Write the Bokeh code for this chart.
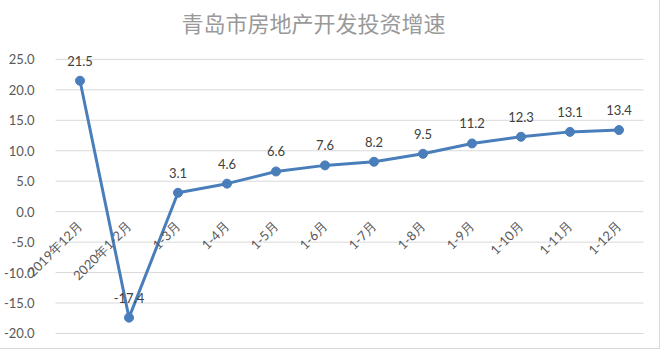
from bokeh.plotting import figure
from bokeh.models import Range1d, ColumnDataSource, NumeralTickFormatter, FixedTicker, LabelSet
from bokeh.core.properties import value
from bokeh.embed import file_html
from bokeh.resources import INLINE
import math

categories = ["2019年12月", "2020年1-2月", "1-3月", "1-4月", "1-5月", "1-6月",
              "1-7月", "1-8月", "1-9月", "1-10月", "1-11月", "1-12月"]
growth = [21.5, -17.4, 3.1, 4.6, 6.6, 7.6, 8.2, 9.5, 11.2, 12.3, 13.1, 13.4]
labels = ["21.5", "-17.4", "3.1", "4.6", "6.6", "7.6", "8.2", "9.5", "11.2", "12.3", "13.1", "13.4"]
y_ticks = [-20, -15, -10, -5, 0, 5, 10, 15, 20, 25]
title_text = "青岛市房地产开发投资增速"

n = len(categories)
pos = list(range(n))
src = ColumnDataSource(dict(x=pos, y=growth, lab=labels))
grid_src = ColumnDataSource(dict(x0=[-0.5] * len(y_ticks), x1=[n - 0.5] * len(y_ticks),
                                 y=y_ticks))

# each category band is 49 px wide, 6.09 px per unit vertically; the frame spans
# nearly the whole canvas so that rotated labels and data labels are not clipped
p = figure(width=660, height=349, output_backend="svg", toolbar_location=None,
           x_range=Range1d(-0.5 - 55 / 49, n - 0.5 + 17 / 49),
           y_range=Range1d(-20 - 10 / 6.09, 30.4),
           min_border_left=0, min_border_right=0, min_border_top=26, min_border_bottom=6)
p.styles = {"border-right": "1px solid #d9d9d9", "border-bottom": "1px solid #d9d9d9"}

p.title.text = title_text
p.title.text_font = "Noto Sans CJK SC"
p.title.text_font_size = "22px"
p.title.text_font_style = "normal"
p.title.text_color = "#999999"
p.title.align = "left"
p.title.offset = 181
p.title.standoff = -22

p.outline_line_color = None
p.xgrid.grid_line_color = None
p.ygrid.grid_line_color = None

# horizontal gridlines spanning the category bands only
p.segment(x0="x0", x1="x1", y0="y", y1="y", source=grid_src,
          line_color="#d9d9d9", line_width=1)

xax = p.xaxis[0]
xax.fixed_location = 0
xax.ticker = FixedTicker(ticks=pos)
xax.major_label_overrides = {i: c for i, c in zip(pos, categories)}
xax.axis_line_color = None
xax.major_tick_line_color = None
xax.minor_tick_line_color = None
xax.major_label_orientation = math.pi / 4
xax.major_label_standoff = 6
xax.major_label_text_font = "Lato"
xax.major_label_text_font_size = "13px"
xax.major_label_text_color = "#595959"

yax = p.yaxis[0]
yax.fixed_location = -0.5
yax.ticker = FixedTicker(ticks=y_ticks)
yax.formatter = NumeralTickFormatter(format="0.0")
yax.axis_line_color = None
yax.major_tick_line_color = None
yax.minor_tick_line_color = None
yax.major_label_standoff = 15
yax.major_label_text_font = "Lato"
yax.major_label_text_font_size = "13px"
yax.major_label_text_color = "#595959"

p.line("x", "y", source=src, line_color="#4a7ebb", line_width=3)
p.scatter("x", "y", source=src, size=9, fill_color="#4a7ebb", line_color="#4a7ebb")

p.add_layout(LabelSet(x="x", y="y", text="lab", source=src, text_align="center",
                      text_baseline="middle", y_offset=20, text_font=value("Lato"),
                      text_font_size=value("13px"), text_color=value("#404040")))

open("out.html", "w").write(file_html(p, INLINE))
